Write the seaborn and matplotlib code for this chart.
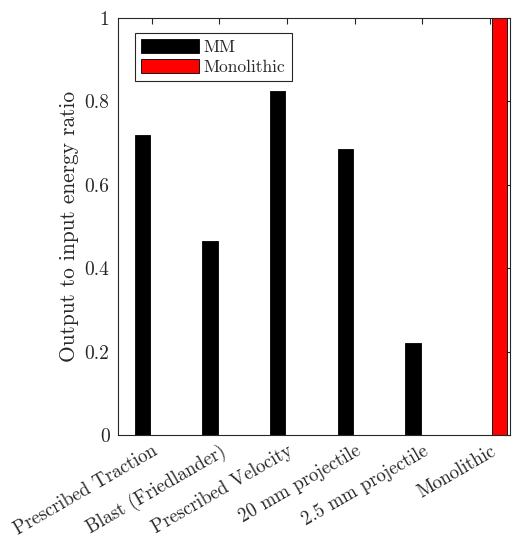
import pandas as pd
import numpy as np
import matplotlib
matplotlib.use("Agg")
import matplotlib.pyplot as plt
import seaborn as sns

# ==========================================
# Data
# ==========================================

categories = ["Prescribed Traction", "Blast (Friedlander)", "Prescribed Velocity",
              "20 mm projectile", "2.5 mm projectile", "Monolithic"]
mm_ratio = [0.719, 0.465, 0.825, 0.686, 0.221, 0.0]
mono_ratio = [0.0, 0.0, 0.0, 0.0, 0.0, 1.0]
series = ["MM", "Monolithic"]
yticks = [0, 0.2, 0.4, 0.6, 0.8, 1]
ytick_labels = ["0", "0.2", "0.4", "0.6", "0.8", "1"]

df = pd.DataFrame({
    "case": categories * 2,
    "ratio": mm_ratio + mono_ratio,
    "series": [series[0]] * len(categories) + [series[1]] * len(categories),
})

# ==========================================
# Style
# ==========================================

sns.set_style("white")
plt.rcParams["font.family"] = ["cmr10", "DejaVu Serif"]
plt.rcParams["axes.formatter.use_mathtext"] = True
plt.rcParams["mathtext.fontset"] = "cm"

fig = plt.figure(figsize=(5.17, 5.38), dpi=100)
ax = fig.add_axes([0.228, 0.1914, 0.758, 0.775])

sns.barplot(
    data=df, x="case", y="ratio", hue="series",
    palette={"MM": "black", "Monolithic": "red"}, saturation=1,
    width=0.56, gap=0.2, edgecolor="black", linewidth=0.6,
    ax=ax,
)

ax.set_xlim(-0.5, 5.29)
ax.set_ylim(0, 1)
ax.set_yticks(yticks)
ax.set_yticklabels(ytick_labels, fontsize=14)
ax.set_xticks(range(len(categories)))
ax.set_xticklabels(categories, fontsize=13.5, rotation=30, ha="right",
                   rotation_mode="anchor")
ax.set_xlabel("")
ax.set_ylabel("Output to input energy ratio", fontsize=15.4)

for s in ax.spines.values():
    s.set_color("#262626")
    s.set_linewidth(0.8)
ax.tick_params(direction="in", top=True, right=True, length=4,
               color="#262626", width=0.8, pad=6)
ax.tick_params(axis="x", pad=5)

handles, labels = ax.get_legend_handles_labels()
leg = ax.legend(handles, labels, loc="upper left", bbox_to_anchor=(0.043, 0.964),
                borderaxespad=0, fontsize=12.6, handlelength=3.3, handleheight=0.85,
                handletextpad=0.3, borderpad=0.35, labelspacing=0.2,
                fancybox=False, framealpha=1, edgecolor="#262626")
leg.get_frame().set_linewidth(0.8)

plt.savefig("out.png", dpi=100)
